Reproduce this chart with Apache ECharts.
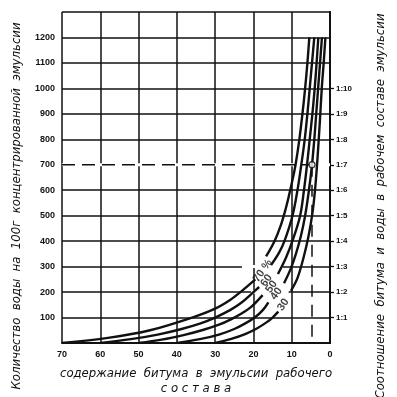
<!DOCTYPE html>
<html>
<head>
    <meta charset="utf-8">
    <title>Эмульсия</title>
    <script src="https://cdn.jsdelivr.net/npm/echarts@6/dist/echarts.min.js"></script>
</head>
<style>
    html, body {
        margin: 0;
        padding: 0;
        background: #fff;
    }

    #chart {
        width: 397px;
        height: 397px;
    }
</style>
<body>
<div id="chart"></div>
<script>
    // оси
    var xTicks = [70, 60, 50, 40, 30, 20, 10, 0];
    var waterTicks = [100, 200, 300, 400, 500, 600, 700, 800, 900, 1000, 1100, 1200];
    var ratioTicks = [100, 200, 300, 400, 500, 600, 700, 800, 900, 1000];
    var ratioLabels = ['1:1', '1:2', '1:3', '1:4', '1:5', '1:6', '1:7', '1:8', '1:9', '1:10'];

    // кривые: концентрация битума в концентрированной эмульсии
    var curveNames = ['70 %', '60', '50', '40', '30'];
    // [битум в рабочей эмульсии %, вода г на 100 г]
    var lowerBranches = [
        [[70, 0], [58, 20], [47, 50], [36, 100], [30, 135], [26, 170], [23, 205], [19.5, 250]],
        [[60, 0], [52, 15], [45, 33], [39, 54], [34, 76], [30, 100], [26, 130], [23, 160], [20.5, 193], [18.5, 220]],
        [[50, 0], [44, 13], [38, 32], [33, 52], [29, 72], [26, 92], [23, 117], [20.5, 143], [17.6, 188]],
        [[40, 0], [34, 15], [29, 33], [25, 55], [22, 78], [19.5, 102], [17.5, 130], [16.1, 160]],
        [[30, 0], [26, 15], [22, 36], [19, 58], [16.5, 82], [15, 100], [13.5, 123]]
    ];
    var upperBranches = [
        [[16.7, 340], [14.5, 400], [12.9, 460], [11.7, 520], [10.7, 580], [9.8, 640], [9, 700], [8, 800], [7.2, 900], [6.5, 1000], [5.9, 1100], [5.4, 1200]],
        [[15.4, 306], [13.3, 355], [11.9, 400], [9.8, 500], [8.5, 600], [7.5, 700], [6.6, 800], [5.9, 900], [5.3, 1000], [4.7, 1100], [4.1, 1200]],
        [[13.6, 271], [11.5, 335], [9.6, 410], [7.8, 500], [6.8, 600], [6, 700], [5.3, 800], [4.6, 900], [4, 1000], [3.5, 1100], [3.05, 1200]],
        [[12, 235], [10.3, 290], [8.9, 350], [7.6, 420], [6.5, 500], [5.5, 600], [4.7, 700], [4.1, 800], [3.6, 900], [3.1, 1000], [2.6, 1100], [2.1, 1200]],
        [[10.2, 205], [8.5, 255], [7, 330], [5.6, 420], [4.5, 520], [3.8, 620], [3.2, 740], [2.65, 870], [2.15, 1000], [1.65, 1100], [1.2, 1200]]
    ];
    // где стоят подписи кривых
    var labelPoints = [[17.6, 284], [16.6, 245], [15.3, 221], [14.0, 193], [12.2, 150]];

    // пример: пунктир 700 г воды
    var guidePath = [[70, 700], [4.7, 700]];
    var guideDrop = [[4.7, 700], [4.7, 0]];
    var guidePoint = [[4.7, 700]];
    // места, где сетка прервана (под пунктиром и у подписей)
    var gridGaps = [
        [[70, 700], [0, 700]],
        [[23, 300], [12.3, 300]],
        [[20.6, 200], [10.8, 200]]
    ];

    var INK = '#111';
    var nameFont = 'italic 13px "DejaVu Sans Condensed", "Liberation Sans Narrow", sans-serif';
    var tickFont = 'Liberation Sans, Arial, sans-serif';

    var chart = echarts.init(document.getElementById('chart'), null, {renderer: 'canvas'});

    var series = [];
    gridGaps.forEach(function (gap) {
        series.push({
            type: 'line',
            data: gap,
            symbol: 'none',
            silent: true,
            z: 1,
            lineStyle: {color: '#fff', width: 3}
        });
    });
    for (var i = 0; i < curveNames.length; i++) {
        [lowerBranches[i], upperBranches[i]].forEach(function (branch) {
            series.push({
                type: 'line',
                data: branch,
                smooth: 0.35,
                symbol: 'none',
                silent: true,
                z: 3,
                lineStyle: {color: INK, width: 2.4}
            });
        });
    }

    series.push({
        type: 'line',
        data: guidePath,
        symbol: 'none',
        silent: true,
        z: 2,
        lineStyle: {color: INK, width: 1.5, type: [13, 7]}
    });
    series.push({
        type: 'line',
        data: guideDrop,
        symbol: 'none',
        silent: true,
        z: 2,
        lineStyle: {color: INK, width: 1.5, type: [12, 8]}
    });
    series.push({
        type: 'scatter',
        data: guidePoint,
        symbol: 'circle',
        symbolSize: 6,
        silent: true,
        z: 5,
        itemStyle: {color: '#fff', borderColor: INK, borderWidth: 1.3}
    });
    series.push({
        type: 'scatter',
        data: labelPoints.map(function (p, k) {
            return {value: p, name: curveNames[k]};
        }),
        symbolSize: 0,
        silent: true,
        z: 6,
        label: {
            show: true,
            position: 'inside',
            formatter: '{b}',
            rotate: 55,
            color: INK,
            fontSize: 11,
            fontWeight: 'bold',
            fontFamily: tickFont
        }
    });

    var option = {
        animation: false,
        backgroundColor: '#fff',
        grid: {left: 62, right: 67, top: 12, bottom: 54},
        xAxis: {
            type: 'value',
            min: 0,
            max: 70,
            interval: 10,
            inverse: true,
            axisLine: {show: true, lineStyle: {color: INK, width: 2}},
            axisTick: {show: false},
            splitLine: {show: true, lineStyle: {color: INK, width: 1.5}},
            axisLabel: {
                customValues: xTicks,
                margin: 7,
                color: INK,
                fontSize: 9,
                fontWeight: 'bold',
                fontFamily: tickFont,
                formatter: function (v) {
                    return String(v);
                }
            }
        },
        yAxis: [
            {
                type: 'value',
                min: 0,
                max: 1300,
                interval: 100,
                position: 'left',
                axisLine: {show: true, lineStyle: {color: INK, width: 2}},
                axisTick: {show: false},
                splitLine: {show: true, lineStyle: {color: INK, width: 1.5}},
                axisLabel: {
                    customValues: waterTicks,
                    margin: 7,
                    color: INK,
                    fontSize: 9,
                    fontWeight: 'bold',
                    fontFamily: tickFont,
                    formatter: function (v) {
                        return String(v);
                    }
                }
            },
            {
                type: 'value',
                min: 0,
                max: 1300,
                interval: 100,
                position: 'right',
                axisLine: {show: true, lineStyle: {color: INK, width: 2}},
                axisTick: {show: true, customValues: ratioTicks, length: 4, lineStyle: {color: INK, width: 1.3}},
                splitLine: {show: false},
                axisLabel: {
                    customValues: ratioTicks,
                    margin: 6,
                    color: INK,
                    fontSize: 8,
                    fontWeight: 'bold',
                    fontFamily: tickFont,
                    formatter: function (v) {
                        return ratioLabels[ratioTicks.indexOf(v)];
                    }
                }
            }
        ],
        graphic: [
            {
                type: 'text',
                x: 196,
                y: 374,
                silent: true,
                style: {
                    text: 'содержание  битума  в  эмульсии  рабочего',
                    font: nameFont,
                    fill: INK,
                    textAlign: 'center',
                    textVerticalAlign: 'middle'
                }
            },
            {
                type: 'text',
                x: 196,
                y: 389,
                silent: true,
                style: {
                    text: 'с о с т а в а',
                    font: nameFont,
                    fill: INK,
                    textAlign: 'center',
                    textVerticalAlign: 'middle'
                }
            },
            {
                type: 'text',
                x: 17,
                y: 206,
                rotation: Math.PI / 2,
                silent: true,
                style: {
                    text: 'Количество  воды  на  100г  концентрированной  эмульсии',
                    font: nameFont,
                    fill: INK,
                    textAlign: 'center',
                    textVerticalAlign: 'middle'
                }
            },
            {
                type: 'text',
                x: 381,
                y: 206,
                rotation: Math.PI / 2,
                silent: true,
                style: {
                    text: 'Соотношение  битума  и  воды  в  рабочем  составе  эмульсии',
                    font: nameFont,
                    fill: INK,
                    textAlign: 'center',
                    textVerticalAlign: 'middle'
                }
            }
        ],
        series: series
    };

    chart.setOption(option);
</script>
</body>
</html>
